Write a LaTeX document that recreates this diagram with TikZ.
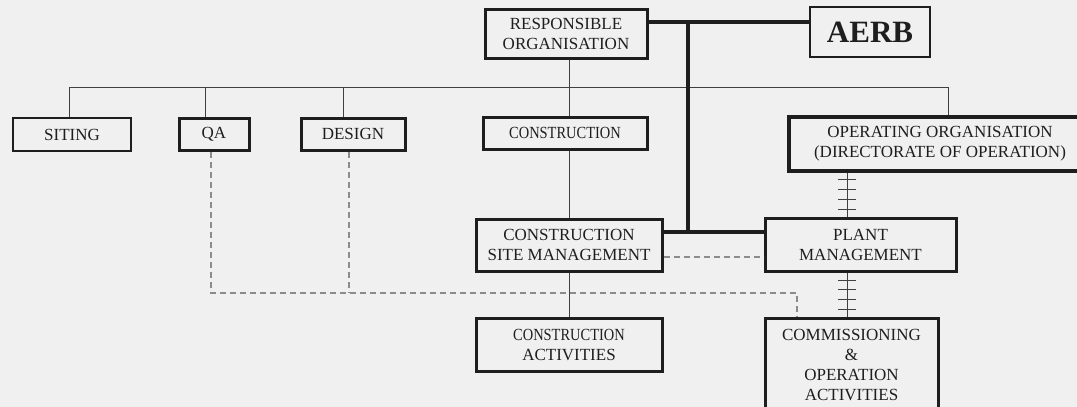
\documentclass[tikz,border=0pt]{standalone}
\usepackage{fontspec}
\setmainfont{Liberation Serif}
\usepackage{xcolor}
\usetikzlibrary{calc}
\definecolor{paper}{HTML}{F0F0F0}
\definecolor{ink}{HTML}{1E1E1E}
\definecolor{dashgray}{HTML}{8C8C8C}
\newcommand{\narrow}[1]{\scalebox{0.85}[1]{#1}}

\begin{document}
\begin{tikzpicture}[x=1pt, y=-1pt,
    box/.style={draw=ink, line width=3pt, fill=paper, text=ink, align=center,
                inner sep=0pt, font=\fontsize{17}{20}\selectfont},
    thinbox/.style={box, line width=2pt},
    thinline/.style={draw=ink!85, line width=1pt},
    thickline/.style={draw=ink, line width=4pt},
    dashline/.style={draw=dashgray, line width=1.2pt, dash pattern=on 6pt off 4pt}]
    % Background and frame
    \fill[paper] (0,0) rectangle (1077,407);
    \useasboundingbox (0,0) rectangle (1077,407);

    % Top row
    \node[box, minimum width=162pt, minimum height=49pt] (ro) at (566,33.5) {RESPONSIBLE\\ORGANISATION};
    \node[thinbox, minimum width=120pt, minimum height=50pt, font=\fontsize{31}{31}\selectfont\bfseries] (aerb) at (870,32) {AERB};

    % Second row
    \node[thinbox, minimum width=118pt, minimum height=33pt] (siting) at (72,134.5) {SITING};
    \node[box, minimum width=70pt, minimum height=32pt] (qa) at (214,134) {QA};
    \node[box, minimum width=104pt, minimum height=32pt] (design) at (353,134) {DESIGN};
    \node[box, minimum width=164pt, minimum height=32pt] (cons) at (565,133) {\narrow{CONSTRUCTION}};
    \node[box, line width=3.4pt, minimum width=302pt, minimum height=54pt] (oo) at (940,144) {OPERATING ORGANISATION\\(DIRECTORATE OF OPERATION)};

    % Management row
    \node[box, minimum width=186pt, minimum height=52pt] (csm) at (569,245) {CONSTRUCTION\\SITE MANAGEMENT};
    \node[box, minimum width=191pt, minimum height=53pt] (pm) at (860.5,245) {PLANT\\MANAGEMENT};

    % Activities row
    \node[box, minimum width=186pt, minimum height=53pt] (ca) at (569,344.5) {\narrow{CONSTRUCTION}\\ACTIVITIES};
    \node[box, minimum width=173pt, minimum height=94pt, text depth=0pt] (coa) at (851.5,365) {COMMISSIONING\\\&\\OPERATION\\ACTIVITIES};

    % Horizontal bar with drops
    \coordinate (barL) at (69,87);
    \coordinate (barR) at (948,87);
    \draw[thinline] (barL) -- (barR);
    \draw[thinline] (barL) -- (barL |- siting.north);
    \draw[thinline] ([xshift=-9pt]qa.north |- barL) -- ([xshift=-9pt]qa.north);
    \draw[thinline] ([xshift=-10pt]design.north |- barL) -- ([xshift=-10pt]design.north);
    \draw[thinline] (barR) -- (barR |- oo.north);

    % Construction line
    \draw[thinline] (ro.south -| csm) -- (cons.north -| csm);
    \draw[thinline] (cons.south -| csm) -- (csm.north);
    \draw[thinline] (csm.south) -- (ca.north);

    % AERB links
    \coordinate (hub) at (688,22);
    \coordinate (hubB) at (688,232);
    \draw[thickline] (ro.east |- hub) -- (aerb.west |- hub);
    \draw[thickline] (hub) -- (hubB);
    \draw[thickline] (csm.east |- hubB) -- (pm.west |- hubB);

    % Operating ladder links
    \coordinate (lad) at (847,0);
    \draw[thinline] (oo.south -| lad) -- (pm.north -| lad);
    \draw[thinline] (pm.south -| lad) -- (coa.north -| lad);
    \foreach \y in {179,189,199,209,280,289,299,309}
        \draw[thinline] (838,\y) -- (856,\y);

    % Dashed QA / design links
    \coordinate (qaturn) at (211,293);
    \coordinate (coaturn) at (797,293);
    \draw[dashline] ([xshift=-3pt]qa.south) -- (qaturn) -- (coaturn) -- (coaturn |- coa.north);
    \draw[dashline] ([xshift=-4pt]design.south) -- ([xshift=-4pt]design.south |- qaturn);
    \draw[dashline] ([yshift=-12pt]csm.east) -- ([yshift=-12pt]csm.east -| pm.west);
\end{tikzpicture}
\end{document}
